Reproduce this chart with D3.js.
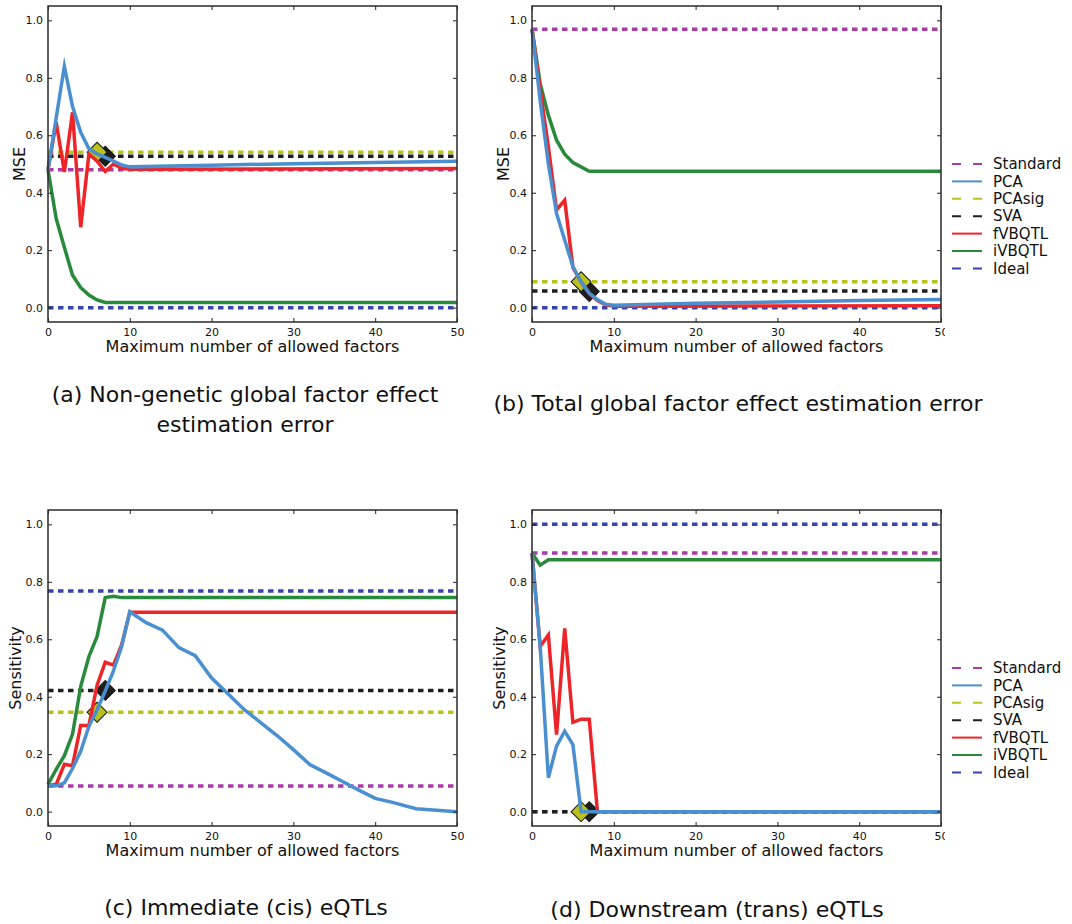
<!DOCTYPE html>
<html>
<head>
<meta charset="utf-8">
<script src="https://cdn.jsdelivr.net/npm/d3@7"></script>
<style>
  body { margin: 0; background: #fff; }
  text { font-family: "DejaVu Sans", sans-serif; fill: #111; }
</style>
</head>
<body>
<svg width="1072" height="924"></svg>
<script>
// ---------- data ----------
const methods = ["Standard", "PCA", "PCAsig", "SVA", "fVBQTL", "iVBQTL", "Ideal"];
const xTicks = [0, 10, 20, 30, 40, 50];
const yTicks = [0.0, 0.2, 0.4, 0.6, 0.8, 1.0];

// (a) non-genetic global factor effect, MSE
const aFlat = { Standard: 0.48, PCAsig: 0.541, SVA: 0.527, Ideal: 0.0 };
const aPCA = [[0,0.48],[1,0.66],[2,0.84],[3,0.70],[4,0.61],[5,0.553],[6,0.535],[7,0.523],[8,0.51],[9,0.497],[10,0.49],[20,0.496],[30,0.501],[40,0.505],[50,0.51]];
const aFVB = [[0,0.48],[1,0.645],[2,0.472],[3,0.68],[4,0.28],[5,0.535],[6,0.51],[7,0.474],[8,0.5],[9,0.485],[10,0.482],[50,0.484]];
const aIVB = [[0,0.48],[1,0.31],[2,0.21],[3,0.113],[4,0.07],[5,0.044],[6,0.027],[7,0.018],[50,0.018]];
const aMarks = { PCAsig: [6, 0.541], SVA: [7, 0.527] };

// (b) total global factor effect, MSE
const bFlat = { Standard: 0.969, PCAsig: 0.09, SVA: 0.058, Ideal: 0.0 };
const bPCA = [[0,0.97],[1,0.72],[2,0.50],[3,0.328],[4,0.235],[5,0.143],[6,0.09],[7,0.05],[8,0.028],[9,0.012],[10,0.008],[20,0.015],[30,0.02],[40,0.025],[50,0.028]];
const bFVB = [[0,0.97],[1,0.76],[2,0.56],[3,0.34],[4,0.374],[5,0.14],[6,0.09],[7,0.05],[8,0.025],[9,0.01],[10,0.005],[50,0.007]];
const bIVB = [[0,0.97],[1,0.78],[2,0.67],[3,0.583],[4,0.534],[5,0.505],[6,0.49],[7,0.475],[50,0.475]];
const bMarks = { PCAsig: [6, 0.09], SVA: [7, 0.056] };

// (c) cis eQTLs, sensitivity
const cFlat = { Standard: 0.089, PCAsig: 0.346, SVA: 0.422, Ideal: 0.768 };
const cPCA = [[0,0.09],[1,0.09],[2,0.1],[3,0.15],[4,0.21],[5,0.297],[6,0.355],[7,0.42],[8,0.49],[9,0.575],[10,0.696],[12,0.658],[14,0.632],[16,0.571],[18,0.543],[20,0.465],[22,0.41],[24,0.355],[26,0.31],[28,0.265],[30,0.216],[32,0.164],[34,0.135],[36,0.105],[38,0.075],[40,0.046],[42,0.033],[45,0.01],[50,0.0]];
const cFVB = [[0,0.09],[1,0.095],[2,0.165],[3,0.16],[4,0.3],[5,0.3],[6,0.44],[7,0.52],[8,0.51],[9,0.58],[10,0.694],[50,0.694]];
const cIVB = [[0,0.095],[1,0.147],[2,0.195],[3,0.27],[4,0.436],[5,0.54],[6,0.61],[7,0.745],[8,0.75],[9,0.745],[50,0.745]];
const cMarks = { PCAsig: [6, 0.346], SVA: [7, 0.422] };

// (d) trans eQTLs, sensitivity
const dFlat = { Standard: 0.9, PCAsig: 0.0, SVA: 0.0, Ideal: 1.0 };
const dPCA = [[0,0.9],[1,0.575],[2,0.118],[3,0.228],[4,0.28],[5,0.233],[6,0.0],[50,0.0]];
const dFVB = [[0,0.9],[1,0.575],[2,0.615],[3,0.268],[4,0.638],[5,0.311],[6,0.322],[7,0.322],[8,0.0],[50,0.0]];
const dIVB = [[0,0.9],[1,0.858],[2,0.877],[50,0.877]];
const dMarks = { PCAsig: [6, 0.0], SVA: [7, 0.0] };

const captions = [
  ["(a) Non-genetic global factor effect", "estimation error"],
  ["(b) Total global factor effect estimation error"],
  ["(c) Immediate (cis) eQTLs"],
  ["(d) Downstream (trans) eQTLs"]
];

// ---------- styling ----------
const colors = {
  Standard: "#a83da8", PCA: "#4a8fcf", PCAsig: "#b9c21d", SVA: "#1e1e1e",
  fVBQTL: "#ee2528", iVBQTL: "#2a8a3c", Ideal: "#3545a8"
};
const dashed = { Standard: true, PCAsig: true, SVA: true, Ideal: true };
const size = { w: 409, h: 316 };
const svg = d3.select("svg");

const panels = [
  { x: 48,  y: 6,   ylab: "MSE",         ylx: 19,  flat: aFlat, pca: aPCA, fvb: aFVB, ivb: aIVB, marks: aMarks, cap: captions[0], capX: 245, capY: 402, legend: false },
  { x: 532, y: 6,   ylab: "MSE",         ylx: 503, flat: bFlat, pca: bPCA, fvb: bFVB, ivb: bIVB, marks: bMarks, cap: captions[1], capX: 738, capY: 411, legend: true, legY: 164 },
  { x: 48,  y: 510, ylab: "Sensitivity", ylx: 15,  flat: cFlat, pca: cPCA, fvb: cFVB, ivb: cIVB, marks: cMarks, cap: captions[2], capX: 246, capY: 915, legend: false },
  { x: 532, y: 510, ylab: "Sensitivity", ylx: 499, flat: dFlat, pca: dPCA, fvb: dFVB, ivb: dIVB, marks: dMarks, cap: captions[3], capX: 717, capY: 917, legend: true, legY: 668 }
];

// clip for the right-hand tick labels that get cut by the legend
svg.append("defs").append("clipPath").attr("id", "cutRight")
  .append("rect").attr("x", -600).attr("y", -20).attr("width", 600 + 413).attr("height", 60);

panels.forEach(p => drawPanel(p));

function drawPanel(p) {
  const x = d3.scaleLinear().domain([0, 50]).range([0, size.w]);
  const y = d3.scaleLinear().domain([-0.05, 1.05]).range([size.h, 0]);
  const g = svg.append("g").attr("transform", `translate(${p.x},${p.y})`);

  // flat reference lines (dashed)
  ["Standard", "PCAsig", "SVA", "Ideal"].forEach(m => {
    g.append("line")
      .attr("x1", x(0)).attr("x2", x(50))
      .attr("y1", y(p.flat[m])).attr("y2", y(p.flat[m]))
      .attr("stroke", colors[m]).attr("stroke-width", 3.5)
      .attr("stroke-dasharray", "5.5,4.5");
  });

  // diamonds where PCAsig / SVA pick their number of factors
  const diamond = d3.symbol().type(d3.symbolSquare).size(200);
  ["SVA", "PCAsig"].forEach(m => {
    const [mx, my] = p.marks[m];
    g.append("path")
      .attr("d", diamond())
      .attr("transform", `translate(${x(mx)},${y(my)}) rotate(45)`)
      .attr("fill", colors[m]).attr("stroke", "#111").attr("stroke-width", 1);
  });

  const line = d3.line().x(d => x(d[0])).y(d => y(d[1]));
  [["iVBQTL", p.ivb], ["fVBQTL", p.fvb], ["PCA", p.pca]].forEach(([m, pts]) => {
    g.append("path")
      .datum(pts)
      .attr("d", line)
      .attr("fill", "none")
      .attr("stroke", colors[m]).attr("stroke-width", 3.5)
      .attr("stroke-linejoin", "miter").attr("stroke-miterlimit", 6);
  });

  // axes: ticks point inwards on all four sides
  const bottom = g.append("g").attr("transform", `translate(0,${size.h})`)
    .call(d3.axisBottom(x).tickValues(xTicks).tickFormat(d3.format("d")).tickSize(-4).tickPadding(6));
  if (p.legend) bottom.attr("clip-path", "url(#cutRight)");
  g.append("g")
    .call(d3.axisLeft(y).tickValues(yTicks).tickFormat(d3.format(".1f")).tickSize(-4).tickPadding(5));
  g.append("g")
    .call(d3.axisTop(x).tickValues(xTicks).tickFormat("").tickSize(-4));
  g.append("g").attr("transform", `translate(${size.w},0)`)
    .call(d3.axisRight(y).tickValues(yTicks).tickFormat("").tickSize(-4));

  g.selectAll(".domain").remove();
  g.selectAll(".tick line").attr("stroke", "#222").attr("stroke-width", 1);
  g.selectAll(".tick text").attr("font-size", 11).attr("fill", "#222")
    .style("font-family", "'DejaVu Sans', sans-serif");

  g.append("rect")
    .attr("width", size.w).attr("height", size.h)
    .attr("fill", "none").attr("stroke", "#2a2a2a").attr("stroke-width", 1.5);

  // axis labels
  g.append("text")
    .attr("x", size.w / 2).attr("y", size.h + 30)
    .attr("text-anchor", "middle").attr("font-size", 16)
    .text("Maximum number of allowed factors");
  svg.append("text")
    .attr("transform", `translate(${p.ylx},${p.y + size.h / 2}) rotate(-90)`)
    .attr("text-anchor", "middle").attr("dominant-baseline", "central")
    .attr("font-size", 16)
    .text(p.ylab);

  // caption under the panel
  p.cap.forEach((c, i) => {
    svg.append("text")
      .attr("x", p.capX).attr("y", p.capY + i * 30)
      .attr("text-anchor", "middle").attr("font-size", 22)
      .text(c);
  });

  if (p.legend) drawLegend(p.legY);
}

function drawLegend(top) {
  const lg = svg.append("g").attr("transform", `translate(952,${top})`);
  methods.forEach((m, i) => {
    const row = lg.append("g").attr("transform", `translate(0,${i * 17.4})`);
    row.append("line")
      .attr("x1", 0).attr("x2", 30)
      .attr("stroke", colors[m]).attr("stroke-width", 2)
      .attr("stroke-dasharray", dashed[m] ? "9,12" : null);
    row.append("text")
      .attr("x", 41).attr("dy", "0.35em")
      .attr("font-size", 15)
      .text(m);
  });
}
</script>
</body>
</html>
